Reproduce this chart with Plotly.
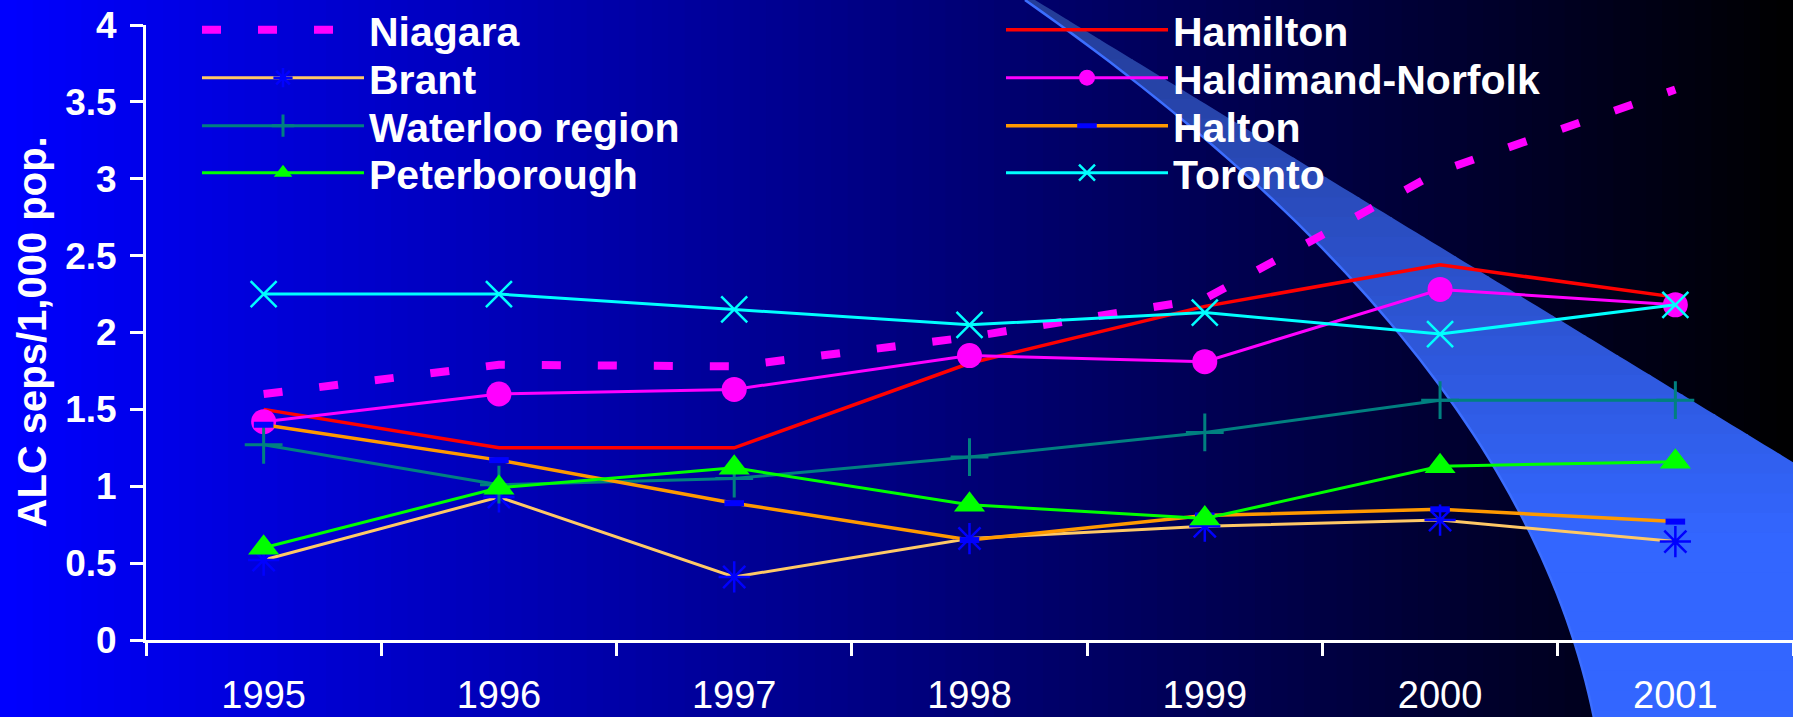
import numpy as np
import plotly.graph_objects as go

# ---------------- data ----------------
years = ["1995", "1996", "1997", "1998", "1999", "2000", "2001"]
niagara = [1.60, 1.79, 1.78, 1.97, 2.22, 3.05, 3.58]
hamilton = [1.50, 1.25, 1.25, 1.80, 2.17, 2.44, 2.23]
brant = [0.52, 0.93, 0.41, 0.66, 0.74, 0.78, 0.64]
haldimand = [1.42, 1.60, 1.63, 1.85, 1.81, 2.28, 2.18]
waterloo = [1.27, 1.01, 1.05, 1.19, 1.35, 1.56, 1.56]
halton = [1.40, 1.17, 0.89, 0.65, 0.81, 0.85, 0.77]
peterborough = [0.60, 0.99, 1.12, 0.88, 0.79, 1.13, 1.16]
toronto = [2.25, 2.25, 2.15, 2.05, 2.13, 1.99, 2.18]

y_title = "ALC seps/1,000 pop."

# ---------------- geometry ----------------
W, H = 1793, 717
ML, MR, MT, MB = 146, 0, 25, 77
PW, PH = W - ML - MR, H - MT - MB
F = "Liberation Sans, Arial, sans-serif"


def px(x, y):
    return (x - ML) / PW, (H - MB - y) / PH


shapes = []
# horizontal background gradient: blue -> black
N = 110
for i in range(N):
    x0 = i * W / N
    x1 = (i + 1) * W / N + 1.5
    c = int(round(255 * (1 - (x0 + W / (2 * N)) / W)))
    a0, b0 = px(x0, H + 5)
    a1, b1 = px(x1, -5)
    shapes.append(dict(type="rect", xref="paper", yref="paper", x0=a0, x1=a1, y0=b0, y1=b1,
                       fillcolor=f"rgb(0,0,{c})", line=dict(width=0), layer="below"))

# light-blue swoosh band (smooth left edge, straight right edge)
edge_y = [0, 100, 200, 310, 410, 533, 633, 717]
edge_x = [1030, 1150, 1268, 1390, 1462, 1523, 1567, 1598]
coef = np.polyfit(edge_y, edge_x, 3)


def xl(y):
    return np.polyval(coef, y)


def xr(y):
    return 1035 + 1.64 * y


top_c = np.array([36, 60, 150])
bot_c = np.array([51, 102, 255])
ys_all = np.linspace(0, 730, 38)
for ya, yb in zip(ys_all[:-1], ys_all[1:]):
    yb2 = yb + 1.0
    ys = np.linspace(ya, yb2, 5)
    pts = [px(xl(y), y) for y in ys] + [px(xr(y), y) for y in ys[::-1]]
    path = "M " + " L ".join(f"{a:.5f},{b:.5f}" for a, b in pts) + " Z"
    t = min(1.0, ((ya + yb) / 2) / 540)
    c = (top_c + t * (bot_c - top_c)).round().astype(int)
    shapes.append(dict(type="path", xref="paper", yref="paper", path=path,
                       fillcolor=f"rgb({c[0]},{c[1]},{c[2]})", line=dict(width=0), layer="below"))

ye = np.linspace(0, 730, 60)
edge_pts = [px(xl(y), y) for y in ye]
shapes.append(dict(type="path", xref="paper", yref="paper",
                   path="M " + " L ".join(f"{a:.5f},{b:.5f}" for a, b in edge_pts),
                   line=dict(color="rgb(60,110,255)", width=2.5), layer="below"))

# ---------------- traces ----------------
fig = go.Figure()

series = [
    ("Niagara", niagara, dict(color="#FF00FF", width=8, dash="19px,37px"), None, "legend"),
    ("Hamilton", hamilton, dict(color="#FF0000", width=3.5), None, "legend2"),
    ("Brant", brant, dict(color="#FFC966", width=3),
     dict(symbol="asterisk-open", size=26, color="#0000FF", line=dict(color="#0000FF", width=2.5)), "legend3"),
    ("Haldimand-Norfolk", haldimand, dict(color="#FF00FF", width=3),
     dict(symbol="circle", size=25, color="#FF00FF", line=dict(width=0)), "legend4"),
    ("Waterloo region", waterloo, dict(color="#008080", width=3),
     dict(symbol="cross-thin-open", size=27, color="#008080", line=dict(color="#008080", width=3)), "legend5"),
    ("Halton", halton, dict(color="#FF9900", width=3.5),
     dict(symbol="line-ew-open", size=14, color="#0000FF", line=dict(color="#0000FF", width=6)), "legend6"),
    ("Peterborough", peterborough, dict(color="#00FF00", width=3),
     dict(symbol="triangle-up", size=27, color="#00FF00", line=dict(width=0)), "legend7"),
    ("Toronto", toronto, dict(color="#00FFFF", width=3),
     dict(symbol="x-thin-open", size=26, color="#00FFFF", line=dict(color="#00FFFF", width=2.5)), "legend8"),
]

for name, vals, line, marker, lg in series:
    kw = dict(x=years, y=vals, name=name, line=line, legend=lg, hoverinfo="skip")
    if marker is None:
        kw["mode"] = "lines"
    else:
        kw["mode"] = "lines+markers"
        kw["marker"] = marker
    fig.add_trace(go.Scatter(**kw))

# legend placement: two columns, four rows
col_x = [197, 1001]
row_y = [30, 78, 126, 173]
legend_layout = {}
names = ["legend", "legend2", "legend3", "legend4", "legend5", "legend6", "legend7", "legend8"]
col_of = [0, 1, 0, 1, 0, 1, 0, 1]
row_of = [0, 0, 1, 1, 2, 2, 3, 3]
for i, lg in enumerate(names):
    legend_layout[lg] = dict(
        x=col_x[col_of[i]] / W, y=1 - row_y[row_of[i]] / H,
        xref="container", yref="container", xanchor="left", yanchor="middle",
        bgcolor="rgba(0,0,0,0)", borderwidth=0, itemwidth=162,
        font=dict(family=F, size=41, color="white", weight="bold"),
    )

fig.update_layout(
    template="none",
    width=W, height=H,
    margin=dict(l=ML, r=MR, t=MT, b=MB, pad=0, autoexpand=False),
    paper_bgcolor="#000080",
    plot_bgcolor="rgba(0,0,0,0)",
    showlegend=True,
    shapes=shapes,
    xaxis=dict(type="category", range=[-0.5, 6.5], tickson="boundaries",
               ticks="outside", ticklen=13, tickwidth=2.5, tickcolor="white",
               showline=True, linecolor="white", linewidth=3, showgrid=False, zeroline=False,
               tickfont=dict(family=F, size=38, color="white"), ticklabelstandoff=19,
               tickangle=0, automargin=False, fixedrange=True),
    yaxis=dict(range=[0, 4], tick0=0, dtick=0.5, ticks="outside", ticklen=13, tickwidth=2.5,
               tickcolor="white", showline=True, linecolor="white", linewidth=3,
               showgrid=False, zeroline=False,
               tickfont=dict(family=F, size=37, color="white", weight="bold"),
               ticklabelstandoff=6, automargin=False, fixedrange=True),
    annotations=[dict(text=y_title, xref="paper", yref="paper",
                      x=(31 - ML) / PW, y=0.5, xanchor="center", yanchor="middle",
                      textangle=-90, showarrow=False,
                      font=dict(family=F, size=40, color="white", weight="bold"))],
    hovermode=False,
    **legend_layout,
)

fig.write_html("out.html", config={"displayModeBar": False})
